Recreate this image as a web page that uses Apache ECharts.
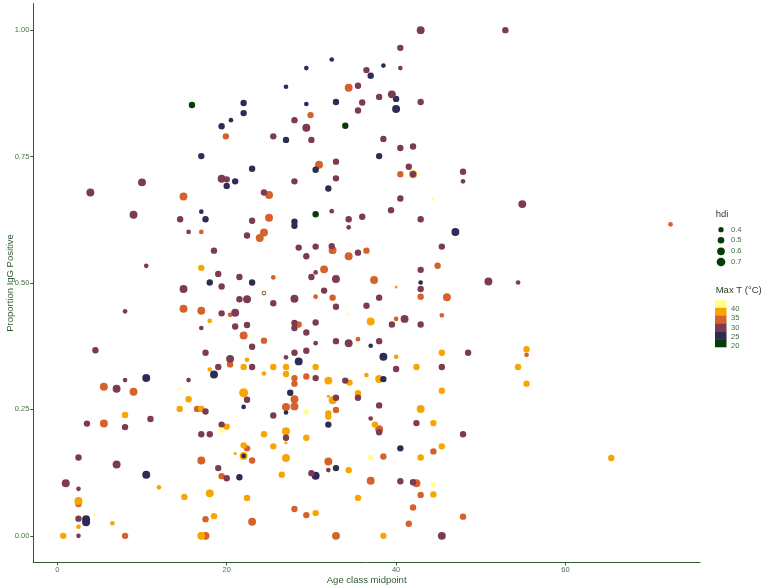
<!DOCTYPE html>
<html>
<head>
<meta charset="utf-8">
<script src="https://cdn.jsdelivr.net/npm/echarts@6/dist/echarts.min.js"></script>
<style>
html,body{margin:0;padding:0;background:#fff;}
#chart{width:764px;height:588px;}
</style>
</head>
<body>
<div id="chart"></div>
<script>
// Each point: [age class midpoint, proportion IgG positive, hdi]
// grouped by Max T (°C); order = drawing order
const ptsMaxT35 = [
[19.9,0.790,0.48],[25.0,0.674,0.62],[14.9,0.671,0.62],[17.0,0.601,0.36],[25.0,0.629,0.62],[24.4,0.600,0.62],[23.9,0.589,0.62],
[34.4,0.886,0.62],[29.9,0.832,0.48],[30.9,0.734,0.62],[40.5,0.715,0.48],[32.5,0.565,0.62],[34.4,0.553,0.62],[36.5,0.564,0.48],
[44.9,0.534,0.48],[42.9,0.473,0.48],[46.0,0.472,0.62],[25.5,0.511,0.36],[31.5,0.527,0.62],[37.4,0.506,0.62],[30.5,0.473,0.36],
[32.5,0.471,0.48],[72.4,0.616,0.36],[55.4,0.358,0.36],[8.0,0.0,0.48],[17.5,0.0,0.62],[32.9,0.0,0.62],[41.5,0.024,0.48],
[47.9,0.038,0.48],[2.5,0.063,0.48],[14.9,0.449,0.62],[17.0,0.445,0.62],[20.4,0.437,0.36],[22.0,0.396,0.62],[24.4,0.386,0.48],
[20.4,0.339,0.48],[5.5,0.295,0.62],[9.0,0.285,0.62],[16.5,0.251,0.48],[5.5,0.222,0.62],[22.4,0.173,0.48],[23.0,0.149,0.48],
[17.0,0.149,0.62],[19.4,0.118,0.48],[17.5,0.033,0.48],[23.0,0.028,0.62],[40.0,0.429,0.36],[45.4,0.436,0.36],[28.5,0.418,0.48],
[35.5,0.389,0.36],[28.0,0.312,0.48],[28.0,0.301,0.48],[29.4,0.315,0.48],[28.0,0.270,0.62],[27.0,0.255,0.62],[28.0,0.256,0.62],
[32.9,0.249,0.48],[38.0,0.211,0.62],[32.0,0.147,0.62],[38.5,0.157,0.48],[44.4,0.167,0.48],[37.0,0.109,0.62],[42.4,0.104,0.62],
[42.9,0.081,0.48],[42.0,0.056,0.48],[28.0,0.053,0.48],[29.4,0.041,0.48]
];
const ptsMaxT40 = [
[17.0,0.530,0.48],[42.0,0.715,0.62],[40.0,0.492,0.28],[55.4,0.369,0.48],[54.4,0.334,0.48],[55.4,0.301,0.48],[65.4,0.154,0.48],
[0.7,0.0,0.48],[17.0,0.0,0.62],[38.5,0.0,0.48],[2.5,0.069,0.62],[2.5,0.018,0.36],[6.5,0.025,0.36],[18.0,0.425,0.36],
[22.4,0.348,0.36],[22.0,0.334,0.48],[25.5,0.334,0.48],[24.4,0.321,0.36],[18.0,0.329,0.36],[15.5,0.270,0.48],[22.0,0.283,0.74],
[14.45,0.251,0.48],[17.0,0.251,0.48],[8.0,0.239,0.48],[20.0,0.216,0.48],[24.4,0.201,0.48],[22.0,0.179,0.48],[25.5,0.177,0.48],
[21.0,0.163,0.28],[22.0,0.158,0.62],[12.0,0.096,0.36],[15.0,0.077,0.48],[18.0,0.084,0.62],[22.4,0.075,0.48],[18.5,0.039,0.48],
[37.0,0.424,0.62],[40.0,0.354,0.36],[45.4,0.362,0.48],[27.0,0.334,0.48],[27.0,0.320,0.48],[30.5,0.334,0.48],[42.4,0.334,0.48],
[32.0,0.307,0.62],[34.5,0.303,0.48],[36.5,0.318,0.36],[38.0,0.310,0.62],[45.4,0.287,0.48],[32.0,0.276,0.28],[32.5,0.268,0.62],
[35.5,0.282,0.48],[42.9,0.251,0.62],[32.0,0.242,0.48],[32.0,0.236,0.48],[37.5,0.220,0.48],[44.4,0.223,0.48],[27.0,0.207,0.62],
[27.0,0.184,0.28],[29.4,0.194,0.48],[27.0,0.154,0.62],[42.9,0.155,0.48],[45.4,0.177,0.48],[26.5,0.121,0.48],[34.4,0.130,0.48],
[44.4,0.082,0.48],[35.5,0.075,0.48],[30.5,0.045,0.48]
];
const ptsMaxT25 = [
[22.0,0.856,0.48],[22.0,0.836,0.48],[20.5,0.822,0.36],[19.4,0.810,0.48],[17.0,0.751,0.48],[23.0,0.726,0.48],[20.0,0.692,0.48],
[21.0,0.701,0.48],[17.0,0.641,0.36],[17.5,0.626,0.48],[18.0,0.501,0.48],[23.0,0.501,0.48],[32.4,0.942,0.36],[29.4,0.925,0.36],
[38.5,0.930,0.36],[37.0,0.910,0.48],[27.0,0.888,0.36],[29.4,0.854,0.36],[32.9,0.858,0.48],[40.0,0.864,0.48],[40.0,0.844,0.62],
[27.0,0.783,0.48],[38.0,0.751,0.48],[30.5,0.724,0.48],[32.0,0.687,0.48],[28.0,0.621,0.48],[28.0,0.613,0.48],[47.0,0.601,0.62],
[42.9,0.501,0.36],[3.4,0.033,0.62],[3.4,0.027,0.62],[18.5,0.319,0.62],[10.5,0.312,0.62],[22.0,0.255,0.36],[22.0,0.158,0.36],
[10.5,0.121,0.62],[21.5,0.116,0.48],[37.0,0.376,0.36],[28.5,0.345,0.62],[38.5,0.354,0.62],[38.5,0.310,0.48],[27.5,0.283,0.48],
[27.0,0.244,0.36],[32.0,0.220,0.48],[40.5,0.173,0.48],[30.5,0.119,0.62],[32.9,0.134,0.48]
];
const ptsMaxT30 = [
[25.5,0.790,0.48],[19.4,0.706,0.62],[20.0,0.705,0.48],[3.9,0.679,0.62],[10.0,0.699,0.62],[24.4,0.679,0.48],[9.0,0.635,0.62],
[14.5,0.626,0.48],[15.5,0.601,0.36],[23.0,0.623,0.48],[22.4,0.594,0.48],[18.5,0.564,0.48],[10.5,0.534,0.36],[19.0,0.518,0.48],
[21.5,0.512,0.48],[14.9,0.488,0.62],[19.4,0.493,0.48],[24.4,0.480,0.36],[21.5,0.468,0.48],[22.4,0.468,0.62],[25.5,0.460,0.48],
[42.9,1.000,0.62],[52.9,1.000,0.48],[40.5,0.965,0.48],[40.5,0.925,0.36],[36.5,0.921,0.48],[35.5,0.890,0.48],[36.0,0.857,0.48],
[38.0,0.868,0.48],[39.5,0.873,0.62],[42.9,0.858,0.48],[35.5,0.841,0.48],[28.0,0.822,0.48],[29.4,0.807,0.62],[30.0,0.783,0.48],
[38.5,0.785,0.48],[40.5,0.767,0.48],[42.0,0.770,0.48],[32.9,0.740,0.48],[41.5,0.730,0.48],[42.0,0.715,0.48],[47.9,0.720,0.48],
[47.9,0.701,0.36],[28.0,0.701,0.48],[32.9,0.707,0.48],[40.5,0.667,0.48],[32.4,0.642,0.36],[34.4,0.626,0.48],[34.4,0.610,0.36],
[36.0,0.631,0.48],[39.4,0.644,0.48],[42.9,0.626,0.48],[45.4,0.572,0.48],[28.5,0.570,0.48],[29.4,0.553,0.48],[30.5,0.572,0.48],
[32.4,0.573,0.48],[35.5,0.560,0.48],[42.9,0.526,0.48],[42.9,0.488,0.48],[50.9,0.503,0.62],[30.0,0.512,0.48],[30.5,0.521,0.36],
[32.9,0.508,0.62],[31.5,0.485,0.48],[38.0,0.471,0.48],[28.0,0.469,0.62],[54.9,0.656,0.62],[54.4,0.501,0.36],[2.5,0.0,0.36],
[45.4,0.0,0.62],[1.0,0.104,0.62],[2.5,0.093,0.36],[2.5,0.034,0.48],[8.0,0.444,0.36],[19.4,0.440,0.48],[21.0,0.441,0.62],
[17.0,0.411,0.36],[21.0,0.414,0.48],[22.4,0.417,0.48],[23.0,0.374,0.48],[4.5,0.367,0.48],[17.5,0.362,0.48],[20.4,0.350,0.62],
[23.0,0.334,0.48],[19.0,0.334,0.48],[15.5,0.308,0.36],[8.0,0.308,0.36],[7.0,0.291,0.62],[22.4,0.269,0.48],[17.5,0.246,0.48],
[25.5,0.238,0.48],[11.0,0.231,0.48],[3.5,0.222,0.48],[8.0,0.215,0.48],[19.4,0.220,0.48],[17.0,0.201,0.48],[18.0,0.201,0.48],
[2.5,0.155,0.48],[7.0,0.141,0.62],[19.0,0.134,0.48],[20.0,0.114,0.48],[32.9,0.453,0.48],[36.5,0.455,0.48],[41.0,0.429,0.62],
[39.5,0.418,0.48],[42.9,0.418,0.48],[28.0,0.421,0.48],[28.0,0.411,0.48],[30.5,0.422,0.48],[29.4,0.402,0.48],[32.9,0.385,0.48],
[34.4,0.381,0.62],[38.0,0.385,0.48],[30.5,0.381,0.36],[28.0,0.362,0.48],[29.4,0.366,0.48],[27.0,0.353,0.36],[48.5,0.362,0.48],
[40.0,0.330,0.48],[45.4,0.334,0.48],[30.5,0.312,0.48],[34.0,0.307,0.48],[32.9,0.273,0.48],[35.5,0.273,0.48],[38.0,0.258,0.48],
[37.0,0.232,0.36],[38.0,0.205,0.48],[42.4,0.223,0.48],[47.9,0.201,0.48],[27.0,0.194,0.48],[30.0,0.124,0.48],[32.0,0.130,0.36],
[40.5,0.108,0.48],[42.0,0.106,0.48]
];
const ptsMaxT45 = [
[24.4,0.480,0.28],[44.4,0.667,0.28],[4.45,0.041,0.28],[14.45,0.291,0.28],[19.4,0.209,0.40],[34.4,0.438,0.28],[29.4,0.245,0.40],
[37.0,0.155,0.40],[44.4,0.101,0.40]
];
const ptsMaxT20 = [
[15.9,0.852,0.48],[34.0,0.811,0.48],[30.5,0.636,0.48]
];
const maxTGroups = [35, 40, 25, 30, 45, 20];
const xTicks = [0, 20, 40, 60];
const yTicks = [0, 0.25, 0.5, 0.75, 1];
const hdiLegendValues = [0.4, 0.5, 0.6, 0.7];
const maxTLegendValues = [40, 35, 30, 25, 20];

const palette = ['#063d06', '#2c2c55', '#7c3b50', '#d4622a', '#f8a500', '#ffff8a'];
const groupArrays = [ptsMaxT35, ptsMaxT40, ptsMaxT25, ptsMaxT30, ptsMaxT45, ptsMaxT20];
const data = [];
groupArrays.forEach((arr, gi) => arr.forEach(p => data.push([p[0], p[1], p[2], maxTGroups[gi]])));

function hdiToSize(h) { return 12.6 * Math.sqrt(Math.max(h - 0.223, 0.002)); }

const axisCol = '#2e5b2e';
const labelCol = '#4b734b';
const titleCol = '#2e5b2e';
const ff = '"Liberation Sans", Arial, sans-serif';

const chart = echarts.init(document.getElementById('chart'), null, {renderer: 'canvas'});

const graphics = [];
// hdi legend
graphics.push({type: 'text', left: 715.7, top: 209.5, style: {text: 'hdi', fill: '#2a3f2a', font: '9.5px ' + ff}});
const hdiY = [229.7, 240.3, 251.3, 262];
hdiLegendValues.forEach((v, i) => {
  graphics.push({type: 'circle', shape: {cx: 721, cy: hdiY[i], r: hdiToSize(v) / 2}, style: {fill: '#063d06'}});
  graphics.push({type: 'text', x: 731, y: hdiY[i], style: {text: v.toFixed(1), fill: '#3f6a3f', font: '7.5px ' + ff, textVerticalAlign: 'middle'}});
});
// Max T legend
graphics.push({type: 'text', left: 715.7, top: 285.5, style: {text: 'Max T (°C)', fill: '#2a3f2a', font: '9.5px ' + ff}});
const barCols = ['#ffff8a', '#f8a500', '#d4622a', '#7c3b50', '#2c2c55', '#063d06'];
const barTop = 300, barH = 47 / 6;
barCols.forEach((c, i) => {
  graphics.push({type: 'rect', shape: {x: 715, y: barTop + i * barH, width: 11.5, height: barH + 0.3}, style: {fill: c}});
});
maxTLegendValues.forEach(v => {
  const y = 346 - (v - 20) * 1.85;
  graphics.push({type: 'text', x: 731, y: y, style: {text: String(v), fill: '#3f6a3f', font: '7.5px ' + ff, textVerticalAlign: 'middle'}});
});

chart.setOption({
  animation: false,
  backgroundColor: '#ffffff',
  grid: {left: 33.3, top: 3.6, width: 666.7, height: 558.8, containLabel: false, outerBoundsMode: 'none'},
  xAxis: {
    type: 'value', min: -2.834, max: 75.88,
    name: 'Age class midpoint', nameLocation: 'middle', nameGap: 12.5, nameMoveOverlap: false,
    nameTextStyle: {color: titleCol, fontSize: 9.5, fontFamily: ff},
    axisLine: {show: true, onZero: false, lineStyle: {color: axisCol, width: 1}},
    axisTick: {show: true, length: 3, customValues: xTicks, lineStyle: {color: axisCol}},
    axisLabel: {show: true, customValues: xTicks, margin: 4, color: labelCol, fontSize: 7.5, fontFamily: ff},
    splitLine: {show: false}
  },
  yAxis: {
    type: 'value', min: -0.0525, max: 1.0525,
    name: 'Proportion IgG Positive', nameLocation: 'middle', nameGap: 18, nameMoveOverlap: false,
    nameTextStyle: {color: titleCol, fontSize: 9.5, fontFamily: ff},
    axisLine: {show: true, onZero: false, lineStyle: {color: axisCol, width: 1}},
    axisTick: {show: true, length: 3, customValues: yTicks, lineStyle: {color: axisCol}},
    axisLabel: {show: true, customValues: yTicks, margin: 4, color: labelCol, fontSize: 7.5, fontFamily: ff,
      formatter: v => v.toFixed(2)},
    splitLine: {show: false}
  },
  visualMap: {
    show: false, type: 'continuous', dimension: 3, min: 20, max: 45, seriesIndex: 0,
    inRange: {color: palette}
  },
  series: [{
    type: 'scatter',
    data: data,
    symbol: 'circle',
    symbolSize: v => hdiToSize(v[2]),
    itemStyle: {opacity: 1},
    emphasis: {disabled: true},
    silent: true
  }],
  graphic: graphics
});
</script>
</body>
</html>
